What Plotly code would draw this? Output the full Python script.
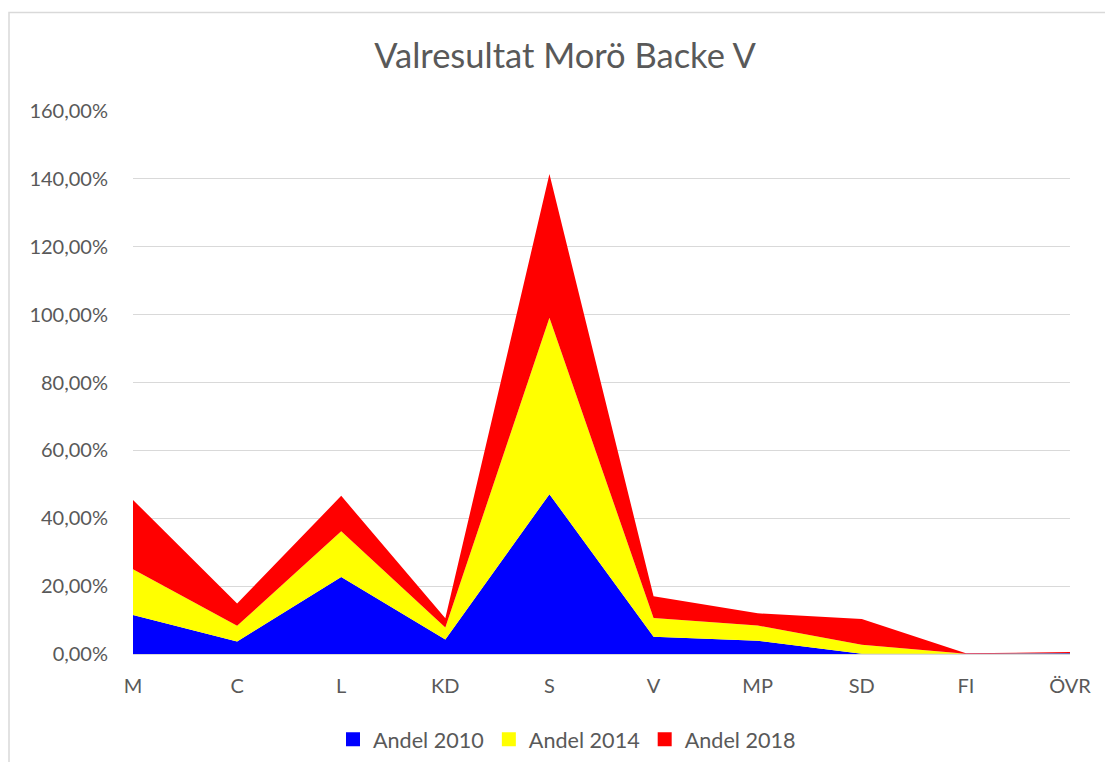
import plotly.graph_objects as go

categories = ["M", "C", "L", "KD", "S", "V", "MP", "SD", "FI", "ÖVR"]
andel_2010 = [0.115, 0.037, 0.227, 0.043, 0.471, 0.051, 0.039, 0.001, 0.0005, 0.002]
andel_2014 = [0.135, 0.046, 0.135, 0.035, 0.520, 0.055, 0.045, 0.026, 0.0005, 0.001]
andel_2018 = [0.204, 0.066, 0.104, 0.027, 0.423, 0.064, 0.036, 0.076, 0.001, 0.003]
y_ticks = [0, 0.2, 0.4, 0.6, 0.8, 1.0, 1.2, 1.4, 1.6]

series = [("Andel 2010", andel_2010, "#0000FF"),
          ("Andel 2014", andel_2014, "#FFFF00"),
          ("Andel 2018", andel_2018, "#FF0000")]

fig = go.Figure()
for name, vals, col in series:
    fig.add_trace(go.Scatter(
        x=categories, y=vals, name=name, mode="lines",
        stackgroup="one", line=dict(width=0, color=col),
        fillcolor=col, hoverinfo="skip", showlegend=False))
# legend entries with square keys
for name, vals, col in series:
    fig.add_trace(go.Scatter(
        x=[None], y=[None], name=name, mode="markers",
        marker=dict(symbol="square", size=14, color=col),
        hoverinfo="skip", showlegend=True))

font = "Lato, Open Sans, sans-serif"
W, H = 1097, 754
PL, PT, PW, PH = 125, 103, 937, 543
fig.update_layout(
    width=W, height=H,
    paper_bgcolor="white", plot_bgcolor="white",
    margin=dict(l=PL, r=W - PL - PW, t=PT, b=H - PT - PH, autoexpand=False),
    separators=",.",
    title=dict(text="Valresultat Morö Backe V", x=(565 - 8) / W, xanchor="center",
               y=1 - 48 / H, yanchor="middle",
               font=dict(family=font, size=34.5, color="#595959")),
    showlegend=True,
    legend=dict(orientation="h", x=(567 - 133) / PW, xanchor="center",
                y=-0.158, yanchor="middle",
                font=dict(family=font, size=21.6, color="#595959"),
                traceorder="normal", itemwidth=30),
    xaxis=dict(type="category", range=[0, 9], showgrid=False,
               showline=True, linecolor="#d9d9d9", linewidth=1,
               ticks="", ticklabelstandoff=14,
               tickfont=dict(family=font, size=20, color="#595959"),
               fixedrange=True, zeroline=False),
    yaxis=dict(range=[0, 1.6], tickvals=y_ticks, tickformat=".2%",
               showgrid=True, gridcolor="#d9d9d9", gridwidth=1,
               zeroline=False, showline=False, ticks="",
               ticklabelstandoff=24,
               tickfont=dict(family=font, size=20, color="#595959"),
               fixedrange=True),
    shapes=[dict(type="rect", xref="paper", yref="paper",
                 x0=(1 - PL) / PW, x1=(W + 20 - PL) / PW,
                 y0=(PT + PH - (H + 20)) / PH, y1=(PT + PH - 4.5) / PH,
                 line=dict(color="#d9d9d9", width=1.5), layer="below")],
)

fig.write_html("out.html")
